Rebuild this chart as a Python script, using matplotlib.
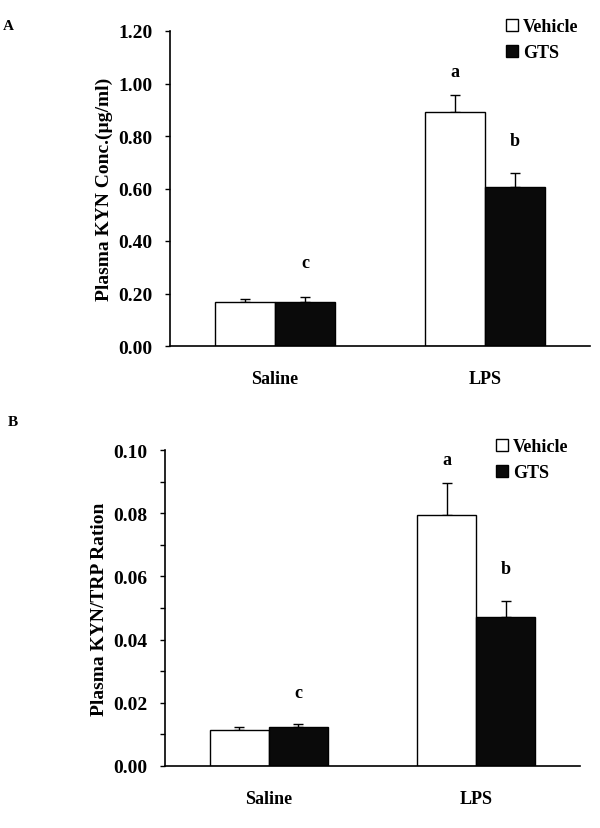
import numpy as np
import matplotlib
matplotlib.use("Agg")
import matplotlib.pyplot as plt
from matplotlib.ticker import MultipleLocator

plt.rcParams['font.family'] = ['Liberation Serif', 'DejaVu Serif']
plt.rcParams['font.weight'] = 'bold'
plt.rcParams['axes.labelweight'] = 'bold'

groups = ['Saline', 'LPS']
series = ['Vehicle', 'GTS']

# panel A: plasma KYN (ug/ml)
kyn_vehicle = [0.169, 0.890]
kyn_vehicle_err = [0.010, 0.065]
kyn_gts = [0.166, 0.607]
kyn_gts_err = [0.019, 0.052]
kyn_marks = {'vehicle': ['', 'a'], 'gts': ['c', 'b']}
kyn_mark_y = {'vehicle': [0, 1.044], 'gts': [0.32, 0.781]}

# panel B: KYN/TRP ratio
ratio_vehicle = [0.0113, 0.0795]
ratio_vehicle_err = [0.0011, 0.0099]
ratio_gts = [0.0125, 0.0472]
ratio_gts_err = [0.0009, 0.0049]
ratio_marks = {'vehicle': ['', 'a'], 'gts': ['c', 'b']}
ratio_mark_y = {'vehicle': [0, 0.0971], 'gts': [0.0233, 0.0626]}

W, H = 600, 829
fig = plt.figure(figsize=(W / 100, H / 100), dpi=100)


def px_axes(left, top, right, bottom):
    return fig.add_axes([left / W, 1 - bottom / H, (right - left) / W, (bottom - top) / H])


def draw_panel(ax, veh, veh_err, gts, gts_err, marks, mark_y, ylim, major, minor, fmt, ylabel):
    x = np.arange(len(groups))
    w = 0.285
    b1 = ax.bar(x - w / 2, veh, w, color='white', edgecolor='black', linewidth=1.0, label=series[0], zorder=2)
    b2 = ax.bar(x + w / 2, gts, w, color='#0a0a0a', edgecolor='black', linewidth=1.0, label=series[1], zorder=2)
    ax.errorbar(x - w / 2, veh, yerr=[np.zeros(len(veh)), veh_err], fmt='none',
                ecolor='black', elinewidth=1.0, capsize=3.5, capthick=1.0, zorder=1)
    ax.errorbar(x + w / 2, gts, yerr=[np.zeros(len(gts)), gts_err], fmt='none',
                ecolor='black', elinewidth=1.0, capsize=3.5, capthick=1.0, zorder=1)
    for i in range(len(groups)):
        if marks['vehicle'][i]:
            ax.text(x[i] - w / 2, mark_y['vehicle'][i], marks['vehicle'][i], ha='center', va='center', fontsize=13)
        if marks['gts'][i]:
            ax.text(x[i] + w / 2, mark_y['gts'][i], marks['gts'][i], ha='center', va='center', fontsize=13)

    ax.set_xlim(-0.5, 1.5)
    ax.set_ylim(*ylim)
    ax.set_xticks(x)
    ax.set_xticklabels(groups, fontsize=13)
    ax.yaxis.set_major_locator(MultipleLocator(major))
    if minor:
        ax.yaxis.set_minor_locator(MultipleLocator(minor))
    ax.yaxis.set_major_formatter(plt.FormatStrFormatter(fmt))
    ax.tick_params(axis='x', length=0, pad=17)
    ax.tick_params(axis='y', which='both', direction='out', length=3.6, width=1.0, pad=9, labelsize=14)
    for s in ['top', 'right']:
        ax.spines[s].set_visible(False)
    for s in ['left', 'bottom']:
        ax.spines[s].set_linewidth(1.2)
    ax.set_ylabel(ylabel, fontsize=14, fontweight='bold')
    return b1, b2


axA = px_axes(170, 32, 590, 347)
draw_panel(axA, kyn_vehicle, kyn_vehicle_err, kyn_gts, kyn_gts_err, kyn_marks, kyn_mark_y,
           (0, 1.2), 0.2, None, '%.2f', 'Plasma KYN Conc.(µg/ml)')
axA.yaxis.set_label_coords(-0.136, 0.5)
axA.legend(loc='upper left', bbox_to_anchor=(497 / W, 1 - 10 / H), bbox_transform=fig.transFigure,
           frameon=False, fontsize=13, borderpad=0, handlelength=0.65, handleheight=0.65,
           handletextpad=0.3, labelspacing=0.5)

axB = px_axes(165, 451, 580, 767)
draw_panel(axB, ratio_vehicle, ratio_vehicle_err, ratio_gts, ratio_gts_err, ratio_marks, ratio_mark_y,
           (0, 0.1), 0.02, 0.01, '%.2f', 'Plasma KYN/TRP Ration')
axB.yaxis.set_label_coords(-0.137, 0.5)
axB.legend(loc='upper left', bbox_to_anchor=(487 / W, 1 - 430 / H), bbox_transform=fig.transFigure,
           frameon=False, fontsize=13, borderpad=0, handlelength=0.65, handleheight=0.65,
           handletextpad=0.3, labelspacing=0.5)

fig.text(3 / W, 1 - 26 / H, 'A', ha='left', va='center', fontsize=11)
fig.text(8 / W, 1 - 423 / H, 'B', ha='left', va='center', fontsize=11)

fig.savefig('out.png', dpi=100, facecolor='white')
